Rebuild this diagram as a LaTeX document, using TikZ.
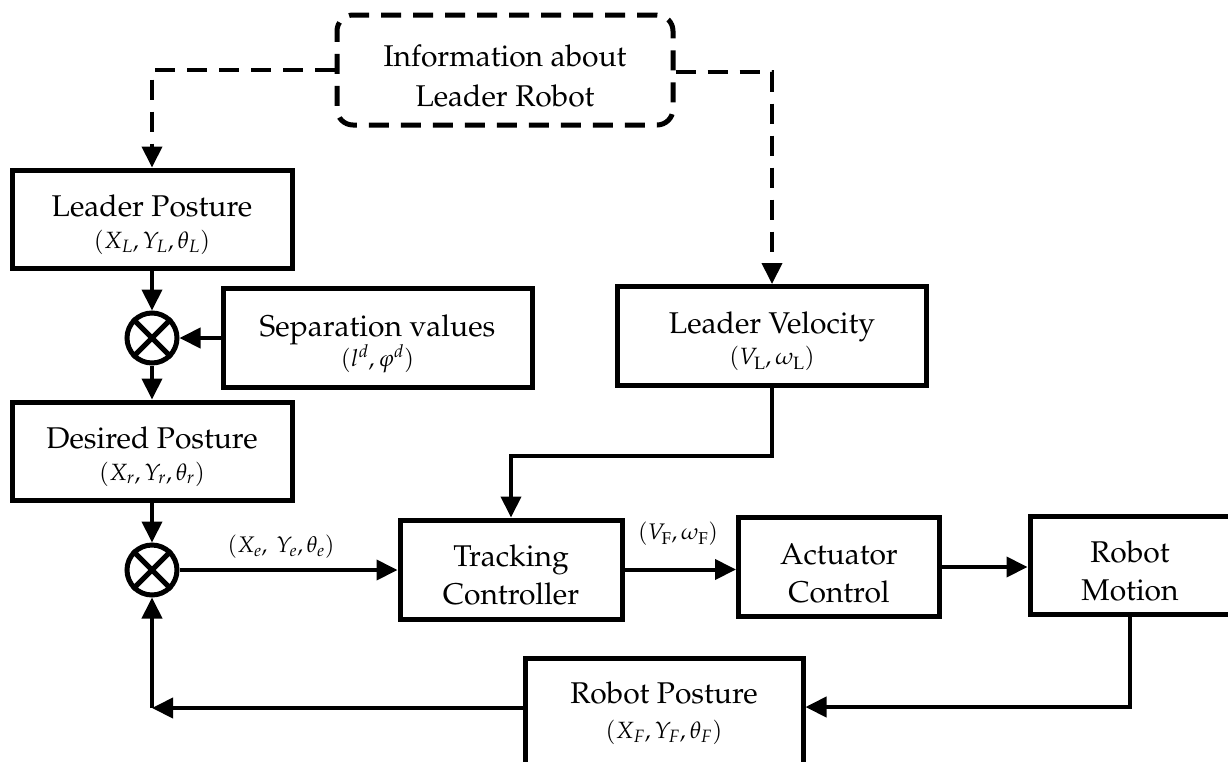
\documentclass[tikz,border=0pt]{standalone}
\usepackage[T1]{fontenc}
\usepackage{mathpazo}
\usetikzlibrary{arrows.meta,calc}
\newcommand\sublabel[2][-6pt]{\\[#1]{\fontsize{23.5}{26}\selectfont$#2$}}
\newcommand\upr{\rule{0pt}{33pt}}
\begin{document}
\begin{tikzpicture}[x=1pt,y=-1pt,
  blk/.style={draw, line width=5pt, inner sep=0pt, align=center,
    font=\fontsize{30}{38}\selectfont},
  summ/.style={draw, circle, line width=5pt, minimum size=50pt, inner sep=0pt},
  conn/.style={line width=4pt, -{Triangle[length=21pt,width=20pt]}},
  dconn/.style={conn, dash pattern=on 20pt off 12pt},
  lbl/.style={inner sep=0pt, font=\fontsize{22.5}{26}\selectfont}]
\fill[white] (0,0) rectangle (1228,761);
\useasboundingbox (0,0) rectangle (1228,761);
\clip (0,0) rectangle (1228,761);

% blocks
\node[blk, rounded corners=16pt, dash pattern=on 20pt off 12pt,
  minimum width=336pt, minimum height=110pt] (info) at (505,70)
  {\upr Information about\\[2pt]Leader Robot};
\node[blk, minimum width=280pt, minimum height=98pt] (LP) at (152,219)
  {\upr Leader Posture\sublabel{(X_L,Y_L,\theta_L)}};
\node[summ] (s1) at (152,338) {};
\node[blk, minimum width=309pt, minimum height=99pt] (SV) at (377.5,338)
  {\upr Separation values\sublabel[-8pt]{(l^d,\varphi^d)}};
\node[blk, minimum width=280pt, minimum height=98pt] (DP) at (152,451)
  {\upr Desired Posture\sublabel{(X_r,Y_r,\theta_r)}};
\node[summ] (s2) at (152,570) {};
\node[blk, minimum width=309pt, minimum height=99pt] (LV) at (772,336)
  {\upr Leader Velocity\sublabel[-7pt]{(V_{\mathrm{L}},\omega_{\mathrm{L}})}};
\node[blk, minimum width=222pt, minimum height=99pt] (TC) at (511,569.5)
  {\upr Tracking\\Controller};
\node[blk, minimum width=201pt, minimum height=99pt] (AC) at (839,567)
  {\upr Actuator\\Control};
\node[blk, minimum width=200pt, minimum height=98pt] (RM) at (1130,565)
  {\upr Robot\\Motion};
\node[blk, minimum width=278pt, minimum height=110pt] (RP) at (664,713)
  {Robot Posture\sublabel[-3pt]{(X_F,Y_F,\theta_F)}};

% crosses in the summing junctions
\foreach \s in {s1,s2}{
  \draw[line width=5pt] (\s.north west) -- (\s.south east);
  \draw[line width=5pt] (\s.north east) -- (\s.south west);
}

% labels
\node[lbl] (le) at (281,547) {$(X_e,\ Y_e,\theta_e)$};
\node[lbl] (lf) at (678,534) {$(V_{\mathrm{F}},\omega_{\mathrm{F}})$};

% connectors
\draw[dconn] (info.west) -| (LP.north);
\draw[dconn] ([yshift=-2pt]info.east) -| (LV.north);
\draw[conn] (LP) -- (s1);
\draw[conn] (SV) -- (s1);
\draw[conn] (s1) -- (DP);
\draw[conn] (DP) -- (s2);
\draw[conn] (s2.east) -- (s2.east -| TC.west);
\draw[conn] (LV.south) -- ++(0,68) -| (TC.north);
\draw[conn] (TC.east) -- (TC.east -| AC.west);
\draw[conn] (AC.east) -- (AC.east -| RM.west);
\draw[conn] (RM.south) |- ([yshift=6pt]RP.east);
\coordinate (fb) at (152,708);
\draw[conn] ([yshift=5pt]RP.west) -- (fb);
\draw[conn] (fb) -- (s2);
\end{tikzpicture}
\end{document}
